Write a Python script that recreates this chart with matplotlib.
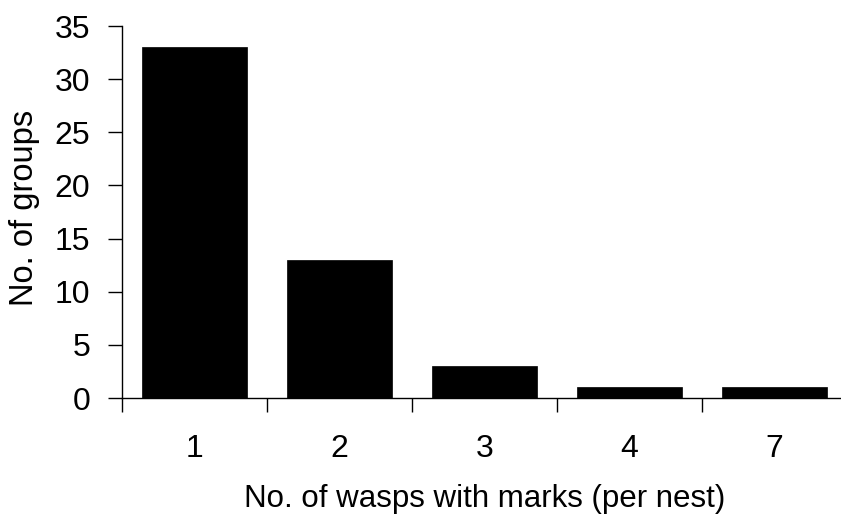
import matplotlib.pyplot as plt
import numpy as np

# 데이터
categories = ["1", "2", "3", "4", "7"]
groups = [33, 13, 3, 1, 1]
y_ticks = [0, 5, 10, 15, 20, 25, 30, 35]

plt.rcParams['font.family'] = ['Liberation Sans', 'DejaVu Sans']

fig = plt.figure(figsize=(8.41, 5.20), dpi=100)
ax = fig.add_axes([122 / 841, 122 / 520, 725 / 841, 372 / 520])

x = np.arange(len(categories))
ax.bar(x, groups, width=0.73, color="black", edgecolor="black", linewidth=0.5)

ax.set_xlim(-0.5, len(categories) - 0.5)
ax.set_ylim(0, 35)
ax.set_yticks(y_ticks)
ax.tick_params(axis="y", direction="out", length=10, width=1, pad=13, labelsize=23)

# x축: 라벨은 중앙, 눈금선은 경계에
ax.set_xticks(x)
ax.set_xticklabels(categories)
ax.tick_params(axis="x", which="major", length=0, pad=26, labelsize=23)
ax.set_xticks(np.arange(len(categories) + 1) - 0.5, minor=True)
ax.tick_params(axis="x", which="minor", direction="out", length=10, width=1)

for s in ["top", "right"]:
    ax.spines[s].set_visible(False)
for s in ["left", "bottom"]:
    ax.spines[s].set_linewidth(1)

ax.set_xlabel("No. of wasps with marks (per nest)", fontsize=22.5)
ax.xaxis.set_label_coords(0.5, -0.232)
ax.set_ylabel("No. of groups", fontsize=23.5)
ax.yaxis.set_label_coords(-0.113, 0.51)

fig.savefig("out.png", dpi=100)
